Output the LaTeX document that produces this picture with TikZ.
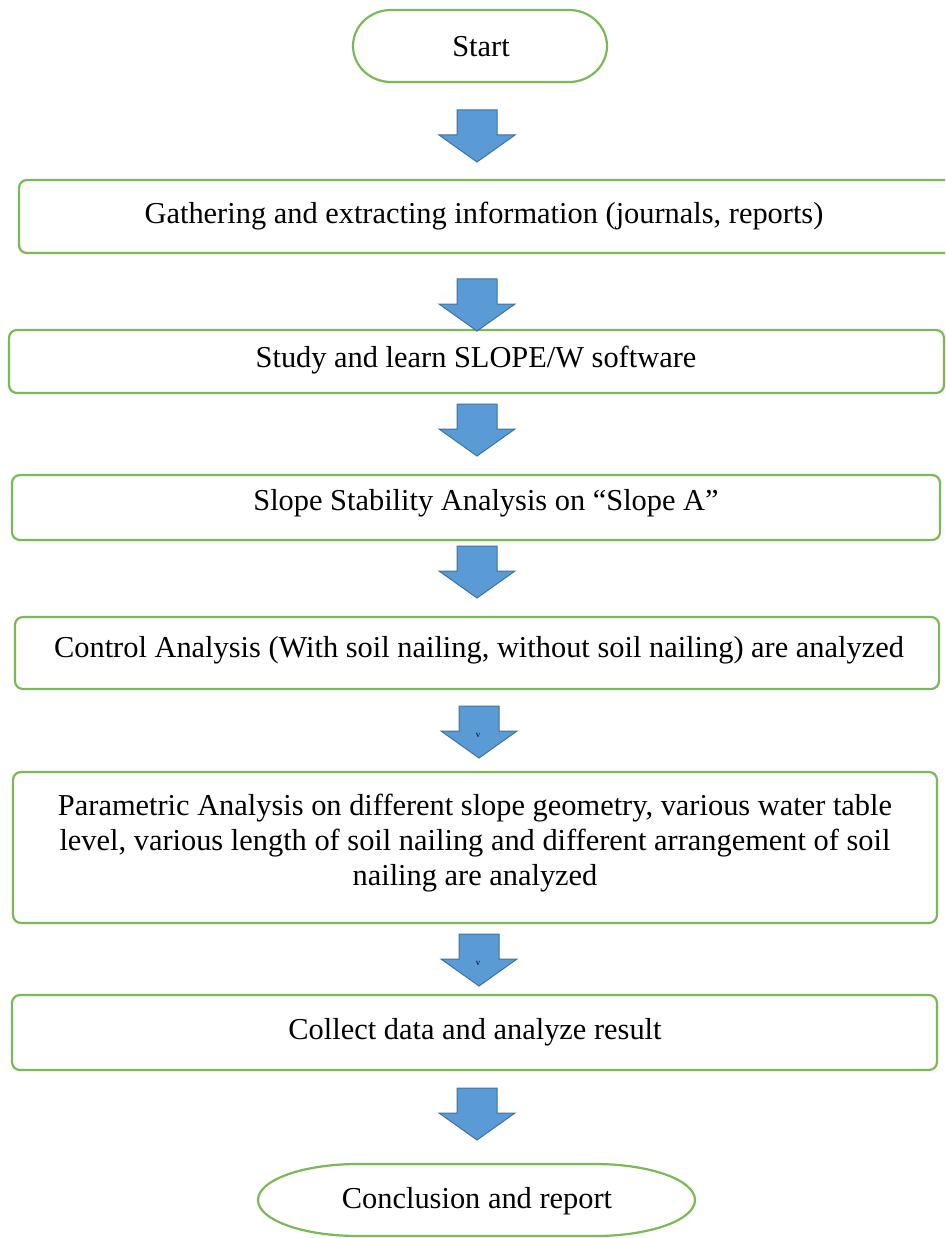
\documentclass[tikz,border=0pt]{standalone}
\usepackage{fontspec}
\setmainfont{Liberation Serif}
\definecolor{boxgreen}{RGB}{122,184,88}
\definecolor{arrfill}{RGB}{91,155,213}
\definecolor{arrdraw}{RGB}{65,113,156}
\tikzset{
  boxline/.style={draw=boxgreen, line width=2.2pt},
  stepbox/.style={boxline, rounded corners=8pt, inner sep=0pt},
  txt/.style={font=\fontsize{30.4}{35}\selectfont, inner sep=0pt, align=center, text=black},
  barr/.pic={\path[fill=arrfill, draw=arrdraw, line width=1pt, line join=miter]
     (-20,0) -- (20,0) -- (20,-25) -- (38,-25) -- (0,-52) -- (-38,-25) -- (-20,-25) -- cycle;},
  tinymark/.style={font=\fontsize{9}{9}\selectfont, text=black!80!blue, inner sep=0pt}
}
\begin{document}
\begin{tikzpicture}[x=1pt,y=1pt]
\useasboundingbox (0,0) rectangle (945,-1238);
\begin{scope}
\clip (0,0) rectangle (945,-1238);
% start
\path[boxline] (391,-10) -- (569,-10) arc[start angle=90,end angle=-90,x radius=38,y radius=36] -- (391,-82) arc[start angle=270,end angle=90,x radius=38,y radius=36] -- cycle;
\node[txt] (start) at (481,-47) {Start};
% boxes
\node[stepbox, minimum width=946pt, minimum height=73pt] (b1) at (492,-216.5) {};
\node[txt] (t1) at (484,-216) {Gathering and extracting information (journals, reports)};
\node[stepbox, minimum width=935pt, minimum height=63pt] (b2) at (476.5,-361.5) {};
\node[txt] (t2) at (476,-360) {Study and learn SLOPE/W software};
\node[stepbox, minimum width=928pt, minimum height=65pt] (b3) at (476,-507.5) {};
\node[txt] (t3) at (486,-503) {Slope Stability Analysis on “Slope A”};
\node[stepbox, minimum width=924pt, minimum height=72pt] (b4) at (477,-653) {};
\node[txt] (t4) at (479,-650) {Control Analysis (With soil nailing, without soil nailing) are analyzed};
\node[stepbox, minimum width=924pt, minimum height=151pt] (b5) at (475,-847.5) {};
\node[txt] (t5) at (475,-843) {Parametric Analysis on different slope geometry, various water table\\level, various length of soil nailing and different arrangement of soil\\nailing are analyzed};
\node[stepbox, minimum width=925pt, minimum height=75pt] (b6) at (474.5,-1032.5) {};
\node[txt] (t6) at (475,-1032) {Collect data and analyze result};
% conclusion
\path[boxline] (358,-1164) -- (595,-1164) arc[start angle=90,end angle=-90,x radius=100,y radius=36] -- (358,-1236) arc[start angle=270,end angle=90,x radius=100,y radius=36] -- cycle;
\node[txt] (end) at (477,-1201) {Conclusion and report};
% arrows
\pic (a1) at (477,-110) {barr};
\pic (a2) at (477,-279) {barr};
\pic (a3) at (477,-404) {barr};
\pic (a4) at (477,-546) {barr};
\pic (a5) at (479,-706) {barr};
\pic (a6) at (479,-934) {barr};
\pic (a7) at (477,-1088) {barr};
\node[tinymark] (v1) at (478,-735) {v};
\node[tinymark] (v2) at (478,-963) {v};
\end{scope}
\end{tikzpicture}
\end{document}
